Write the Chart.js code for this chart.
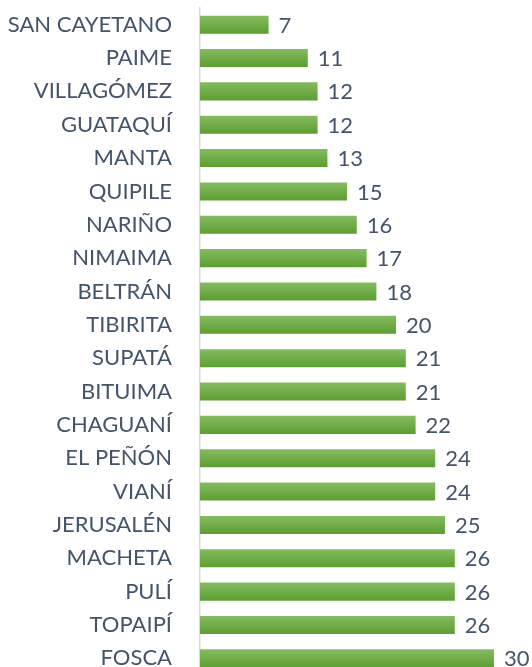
<!DOCTYPE html>
<html>
<head>
<meta charset="utf-8">
<script src="https://cdn.jsdelivr.net/npm/chart.js@4"></script>
<style>
    html, body { margin: 0; padding: 0; background: #fff; overflow: hidden; }
    canvas { display: block; }
</style>
</head>
<body>
<canvas id="chart" width="532" height="680"></canvas>
<script>
const municipios = ['SAN CAYETANO', 'PAIME', 'VILLAGÓMEZ', 'GUATAQUÍ', 'MANTA', 'QUIPILE', 'NARIÑO', 'NIMAIMA',
    'BELTRÁN', 'TIBIRITA', 'SUPATÁ', 'BITUIMA', 'CHAGUANÍ', 'EL PEÑÓN', 'VIANÍ', 'JERUSALÉN',
    'MACHETA', 'PULÍ', 'TOPAIPÍ', 'FOSCA'];
const valores = [7, 11, 12, 12, 13, 15, 16, 17, 18, 20, 21, 21, 22, 24, 24, 25, 26, 26, 26, 30];

const textColor = '#44546a';
const fontFamily = 'Lato, "Liberation Sans", sans-serif';

// fill each bar with its own top-to-bottom gradient
function barFill(context) {
    const chart = context.chart;
    const yScale = chart.scales.y;
    if (!yScale || context.dataIndex === undefined) return '#70ad47';
    const center = yScale.getPixelForValue(context.dataIndex);
    if (!isFinite(center)) return '#70ad47';
    const half = 9;
    const g = chart.ctx.createLinearGradient(0, center - half, 0, center + half);
    g.addColorStop(0, '#86bb62');
    g.addColorStop(1, '#5c9e30');
    return g;
}

// value labels to the right of each bar
const valueLabels = {
    id: 'valueLabels',
    afterDatasetsDraw: function(chart) {
        const ctx = chart.ctx;
        const meta = chart.getDatasetMeta(0);
        ctx.save();
        ctx.font = '22px ' + fontFamily;
        ctx.fillStyle = textColor;
        ctx.textAlign = 'left';
        ctx.textBaseline = 'middle';
        meta.data.forEach(function(bar, i) {
            ctx.fillText(String(valores[i]), bar.x + 10, bar.y + 1);
        });
        ctx.restore();
    }
};

new Chart(document.getElementById('chart'), {
    type: 'bar',
    data: {
        labels: municipios,
        datasets: [{
            data: valores,
            backgroundColor: barFill,
            borderWidth: 0,
            categoryPercentage: 1,
            barPercentage: 0.54
        }]
    },
    options: {
        indexAxis: 'y',
        responsive: false,
        animation: false,
        layout: { padding: { top: 8, right: 38, bottom: 5, left: 0 } },
        plugins: {
            legend: { display: false },
            tooltip: { enabled: false }
        },
        scales: {
            x: {
                display: false,
                min: 0,
                max: 30
            },
            y: {
                afterFit: function(scale) {
                    scale.width = 200;
                    scale.paddingTop = 0;
                    scale.paddingBottom = 0;
                },
                grid: { display: false, drawTicks: false },
                border: { display: true, color: '#d9d9d9', width: 1.5 },
                ticks: {
                    color: textColor,
                    padding: 28,
                    autoSkip: false,
                    font: { family: fontFamily, size: 22 }
                }
            }
        }
    },
    plugins: [valueLabels]
});
</script>
</body>
</html>
